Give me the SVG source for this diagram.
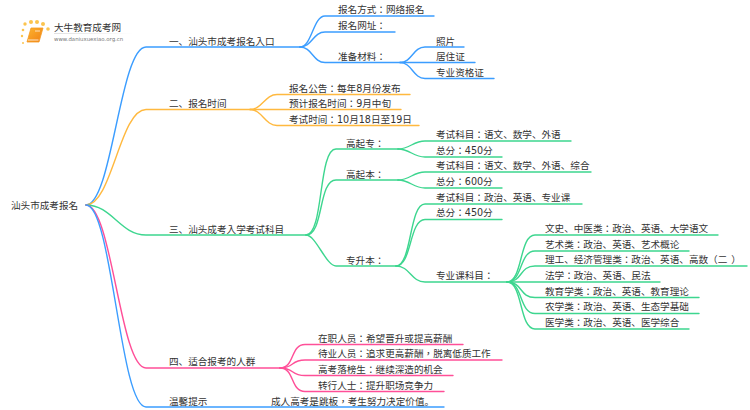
<svg xmlns="http://www.w3.org/2000/svg" width="750" height="410" viewBox="0 0 750 410">
<style>
text{font-family:"DejaVu Sans","Noto Sans CJK JP",sans-serif;font-size:9.6px;fill:#333}
.tc{font-family:"Noto Sans CJK TC",sans-serif}
.c path{fill:none;stroke-width:1.4;stroke-linecap:round}
.b path{stroke:#3b9dff}.o path{stroke:#ffb93f}.g path{stroke:#3dd68f}.p path{stroke:#ff4f98}
.d{fill:#fbc44f}
</style>
<defs><linearGradient id="fade" x1="0" x2="1" y1="0" y2="0"><stop offset="0" stop-color="#ccc"/><stop offset="1" stop-color="#ccc" stop-opacity="0"/></linearGradient>
<linearGradient id="bk" x1="0" x2="1" y1="0" y2="1"><stop offset="0" stop-color="#fdb52e"/><stop offset="1" stop-color="#f07f14"/></linearGradient></defs>
<rect width="750" height="410" fill="#fff"/>
<g id="logo">
<circle class="d" cx="25" cy="24" r="1.7"/><circle class="d" cx="31" cy="22" r="2"/><circle class="d" cx="37" cy="22" r="2"/><circle class="d" cx="43" cy="24" r="2"/><circle class="d" cx="48" cy="29" r="1.800"/><circle class="d" cx="23" cy="30" r="1.300"/><circle class="d" cx="22" cy="36" r="1.200"/><circle class="d" cx="23" cy="43" r="1"/>
<path d="M31 28H43L39 42H27Z" fill="url(#bk)" stroke="#f59a22" stroke-width=".8" stroke-linejoin="round"/>
<path d="M28 40H38.500" stroke="#fff" stroke-width=".8"/>
<path d="M35 31H40" stroke="#fff" stroke-width=".7"/>
<text x="54" y="31">大牛教育成考网</text>
<rect x="54" y="33" width="79" height=".6" fill="url(#fade)"/>
<text x="54" y="41" style="font-size:5.400px;fill:#777">www.daniuxuexiao.org.cn</text>
</g>
<g id="connectors" class="c">
<g class="b">
<path d="M86 205C112 205 120 47 146 47H300"/>
<path d="M300 47C312 47 313 16 325 16H434"/>
<path d="M300 47C312 47 313 32 325 32H395"/>
<path d="M300 47C312 47 313 62.500 325 62.500H400"/>
<path d="M400 62.500C412 62.500 413 47 425 47H464"/>
<path d="M400 62.500H475"/>
<path d="M400 62.500C412 62.500 413 78.500 425 78.500H494"/>
</g>
<g class="o">
<path d="M86 205C112 205 120 109.500 146 109.500H250"/>
<path d="M250 109.500C262 109.500 265 94.500 277 94.500H410"/>
<path d="M250 109.500H401"/>
<path d="M250 109.500C262 109.500 265 125.500 277 125.500H419"/>
</g>
<g class="g">
<path d="M86 205C112 205 120 235 146 235H306"/>
<path d="M306 235C324 235 318 149 336 149H398"/>
<path d="M398 149C410 149 413 141 425 141H571"/>
<path d="M398 149C410 149 413 157 425 157H502"/>
<path d="M306 235C324 235 318 180 336 180H398"/>
<path d="M398 180C410 180 413 172 425 172H591"/>
<path d="M398 180C410 180 413 188 425 188H502"/>
<path d="M306 235C316 235 326 266 336 266H396"/>
<path d="M396 266C412 266 409 204 425 204H582"/>
<path d="M396 266C412 266 409 219.500 425 219.500H502"/>
<path d="M396 266C410 266 411 282 425 282H510"/>
<path d="M507 282C523 282 519 235 535 235H718"/>
<path d="M507 282C523 282 519 251 535 251H689"/>
<path d="M507 282C523 282 519 266 535 266H747"/>
<path d="M507 282H660"/>
<path d="M507 282C523 282 519 297.500 535 297.500H699"/>
<path d="M507 282C523 282 519 313.500 535 313.500H699"/>
<path d="M507 282C523 282 519 329 535 329H689"/>
</g>
<g class="p">
<path d="M86 205C112 205 120 368 146 368H280"/>
<path d="M280 368C295 368 290 344.500 305 344.500H463"/>
<path d="M280 368C295 368 290 360 305 360H502"/>
<path d="M280 368C295 368 290 375.500 305 375.500H453"/>
<path d="M280 368C295 368 290 391.500 305 391.500H444"/>
</g>
<g class="b">
<path d="M86 205C112 205 120 407 146 407H444"/>
</g>
</g>
<g id="root"><text x="11" y="209">汕头市成考报名</text></g>
<g id="n1"><text x="169" y="45">一、汕头市成考报名入口</text></g>
<g id="n1a"><text x="338" y="13">报名方式：网络报名</text></g>
<g id="n1b"><text x="338" y="29">报名网址：</text></g>
<g id="n1c"><text x="338" y="60">准备材料：</text></g>
<g id="n1c1"><text x="436" y="45">照片</text></g>
<g id="n1c2"><text x="436" y="60">居住证</text></g>
<g id="n1c3"><text x="436" y="76">专业资格证</text></g>
<g id="n2"><text x="169" y="107">二、报名时间</text></g>
<g id="n2a"><text x="289" y="92">报名公告：每年8月份发布</text></g>
<g id="n2b"><text x="289" y="107">预计报名时间：9月中旬</text></g>
<g id="n2c"><text x="289" y="123">考试时间：10月18日至19日</text></g>
<g id="n3"><text x="169" y="233">三、汕头成考入学考试科目</text></g>
<g id="n3a"><text x="346" y="147">高起专：</text></g>
<g id="n3a1"><text x="436" y="138">考试科目：语文、数学、外语</text></g>
<g id="n3a2"><text x="436" y="154">总分：450分</text></g>
<g id="n3b"><text x="346" y="178">高起本：</text></g>
<g id="n3b1"><text x="436" y="169">考试科目：语文、数学、外语、综合</text></g>
<g id="n3b2"><text x="436" y="185">总分：600分</text></g>
<g id="n3c"><text x="346" y="264">专升本：</text></g>
<g id="n3c1"><text x="436" y="201">考试科目：政治、英语、专业课</text></g>
<g id="n3c2"><text x="436" y="216">总分：450分</text></g>
<g id="n3c3"><text x="436" y="279">专业课科目：</text></g>
<g id="n3c3a"><text x="545" y="232">文史、中医类：政治、英语、大学语文</text></g>
<g id="n3c3b"><text x="545" y="248">艺术类：政治、英语、艺术概论</text></g>
<g id="n3c3c"><text x="545" y="263">理工、经济管理类：政治、英语、高数（二<tspan dx="4">）</tspan></text></g>
<g id="n3c3d"><text x="545" y="279">法学：政治、英语、民法</text></g>
<g id="n3c3e"><text x="545" y="295">教育学类：政治、英语、教育理论</text></g>
<g id="n3c3f"><text x="545" y="310">农学类：政治、英语、生态学基础</text></g>
<g id="n3c3g"><text x="545" y="326">医学类：政治、英语、医学综合</text></g>
<g id="n4"><text x="169" y="365">四、适合报考的人群</text></g>
<g id="n4a"><text x="318" y="342">在职人员：希望晋升或提高薪酬</text></g>
<g id="n4b"><text x="318" y="357">待业人员：追求更高薪酬<tspan class="tc">，</tspan>脱离低质工作</text></g>
<g id="n4c"><text x="318" y="373">高考落榜生：继续深造的机会</text></g>
<g id="n4d"><text x="318" y="389">转行人士：提升职场竞争力</text></g>
<g id="n5"><text x="169" y="405">温馨提示</text></g>
<g id="n5a"><text x="271" y="405">成人高考是跳板<tspan class="tc">，</tspan>考生努力决定价值。</text></g>
</svg>
